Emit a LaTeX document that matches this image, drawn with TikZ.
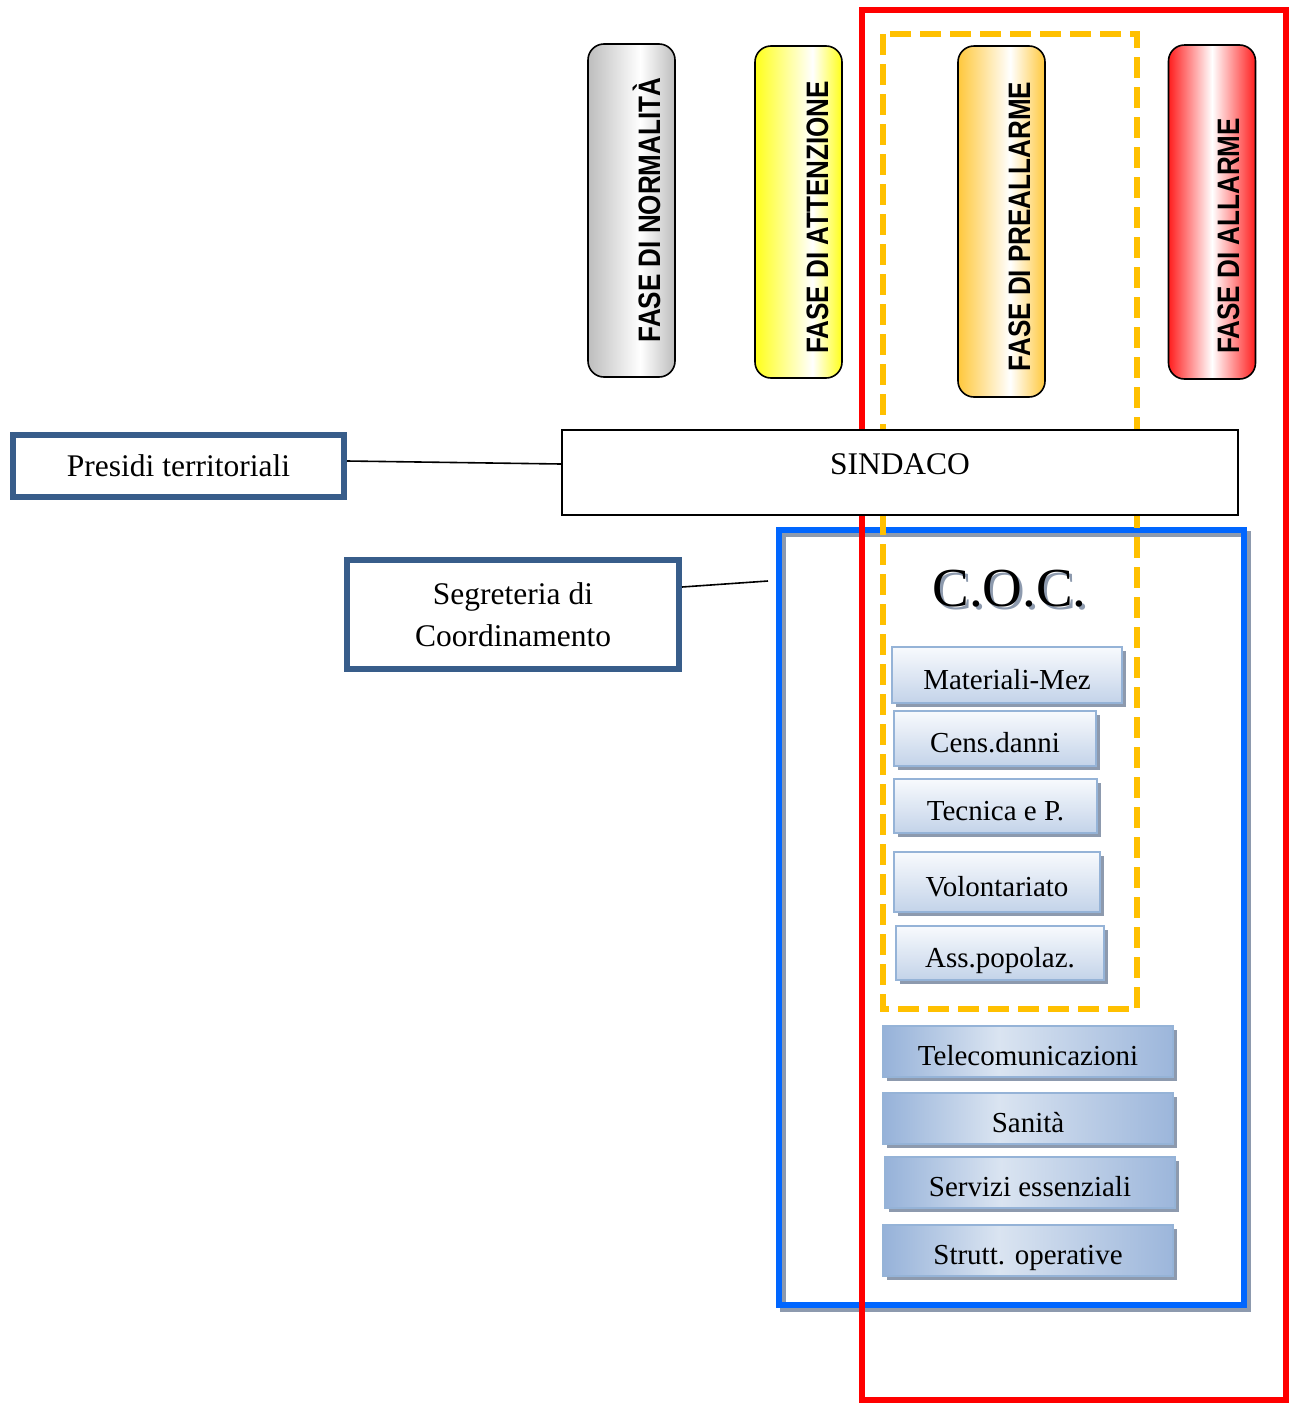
\documentclass[tikz,border=0pt]{standalone}
\usepackage{fontspec}
\setmainfont{Liberation Serif}
\newfontfamily\phasefont{Liberation Sans}
\usetikzlibrary{shadows}
\definecolor{fgray}{HTML}{BDBDBD}
\definecolor{fyellow}{HTML}{FFFF1A}
\definecolor{forange}{HTML}{FFC83C}
\definecolor{fred}{HTML}{FF1E1E}
\definecolor{boxblue}{HTML}{385D8A}
\definecolor{cocblue}{HTML}{0066FF}
\definecolor{dashor}{HTML}{FFC000}
\definecolor{shgray}{HTML}{8D9AAE}
\definecolor{funborder}{HTML}{95B3D7}
\definecolor{funtop}{HTML}{F8FAFD}
\definecolor{funbot}{HTML}{C3D3E9}
\definecolor{fbA}{HTML}{96B2D9}
\definecolor{fbL}{HTML}{DAE4F1}
\definecolor{fbB}{HTML}{9CB6DB}
\pgfdeclarehorizontalshading{shgrayfase}{100bp}{color(0bp)=(fgray); color(25bp)=(fgray); color(55bp)=(white); color(75bp)=(fgray); color(100bp)=(fgray)}
\pgfdeclarehorizontalshading{shyellowfase}{100bp}{color(0bp)=(fyellow); color(25bp)=(fyellow); color(58bp)=(white); color(75bp)=(fyellow); color(100bp)=(fyellow)}
\pgfdeclarehorizontalshading{shorangefase}{100bp}{color(0bp)=(forange); color(25bp)=(forange); color(55bp)=(white); color(75bp)=(forange); color(100bp)=(forange)}
\pgfdeclarehorizontalshading{shredfase}{100bp}{color(0bp)=(fred); color(25bp)=(fred); color(50bp)=(white); color(75bp)=(fred); color(100bp)=(fred)}
\pgfdeclarehorizontalshading{shfunb}{100bp}{color(0bp)=(fbA); color(25bp)=(fbA); color(45bp)=(fbL); color(75bp)=(fbB); color(100bp)=(fbB)}
\begin{document}
\begin{tikzpicture}[x=1pt,y=-1pt,
  pill/.style={draw=black, line width=1.6pt, rounded corners=16pt, inner sep=0pt, minimum width=87pt},
  fasetext/.style={rotate=90, anchor=base, inner sep=0pt, font=\phasefont\bfseries\fontsize{31}{31}\selectfont},
  bluebox/.style={draw=boxblue, line width=6pt, fill=white, inner sep=0pt, font=\fontsize{31.5}{42}\selectfont, align=center},
  plainbox/.style={draw=black, line width=1.6pt, fill=white, inner sep=0pt},
  conn/.style={draw=black, line width=1.6pt},
  funA/.style={draw=funborder, line width=2pt, top color=funtop, bottom color=funbot, inner sep=0pt,
     text height=28pt, text depth=0pt, font=\fontsize{29}{29}\selectfont,
     preaction={fill=shgray, transform canvas={xshift=4pt,yshift=-4pt}}},
  funB/.style={draw=funborder, line width=2pt, shading=shfunb, inner sep=0pt, minimum width=290pt, minimum height=51pt,
     text height=28pt, text depth=0pt, font=\fontsize{29}{29}\selectfont,
     preaction={fill=shgray, transform canvas={xshift=4pt,yshift=-4pt}}},
  cocframe/.style={draw=cocblue, line width=6pt, inner sep=0pt,
     preaction={draw=shgray, line width=6pt, transform canvas={xshift=4pt,yshift=-4pt}}},
]
\useasboundingbox (0,0) rectangle (1290,1403);
\fill[white] (0,0) rectangle (1290,1403);

% phase pills
\node[pill, minimum height=333pt, shading=shgrayfase] (pnorm) at (631.5,210.5) {};
\node[pill, minimum height=332pt, shading=shyellowfase] (patt) at (798.5,212) {};
\node[pill, minimum height=351pt, shading=shorangefase] (ppre) at (1001.5,221.5) {};
\node[pill, minimum height=334pt, shading=shredfase] (pall) at (1212,212) {};
\node[fasetext] (tnorm) at (660,210) {\scalebox{0.84}[1]{FASE DI NORMALITÀ}};
\node[fasetext] (tatt) at (828,217.5) {\scalebox{0.84}[1]{FASE DI ATTENZIONE}};
\node[fasetext] (tpre) at (1030,226.5) {\scalebox{0.84}[1]{FASE DI PREALLARME}};
\node[fasetext] (tall) at (1239,236) {\scalebox{0.84}[1]{FASE DI ALLARME}};

% C.O.C. frame
\node[cocframe, minimum width=465pt, minimum height=775pt] (coc) at (1011.5,917.5) {};

% red and orange frames
\draw[red, line width=6pt] (862,10) rectangle (1285.5,1400);
\draw[dashor, line width=6.5pt, dash pattern=on 21pt off 9pt] (883,34) rectangle (1137,1009);

% sindaco
\node[plainbox, minimum width=676pt, minimum height=85pt, text height=12pt, text depth=9pt,
  font=\fontsize{31.5}{31.5}\selectfont] (sindaco) at (900,472.5) {SINDACO};

% left boxes
\node[bluebox, minimum width=331pt, minimum height=62pt] (presidi) at (178.5,466) {Presidi territoriali};
\node[bluebox, minimum width=332pt, minimum height=109pt] (segr) at (513,614.5) {Segreteria di\\Coordinamento};
\coordinate (segend) at (768,581);

\draw[conn] ([yshift=5pt]presidi.east) -- ([yshift=8.5pt]sindaco.west);
\draw[conn] ([yshift=27.5pt]segr.east) -- (segend);

% C.O.C. title (with its grey shadow)
\node[anchor=base, inner sep=0pt, font=\fontsize{55}{55}\selectfont] (coctitle) at (1009.5,606)
  {\makebox[0pt][l]{\hspace{3pt}\raisebox{-3pt}{\textcolor{shgray}{C.O.C.}}}C.O.C.};

% functions group A
\node[funA, minimum width=230pt, minimum height=56pt] (mat) at (1007,675) {Materiali-Mez};
\node[funA, minimum width=202pt, minimum height=55pt] (cens) at (995,738.5) {Cens.danni};
\node[funA, minimum width=203pt, minimum height=54pt] (tec) at (995.5,806) {Tecnica e P.};
\node[funA, minimum width=206pt, minimum height=60pt] (vol) at (997,882) {Volontariato};
\node[funA, minimum width=208pt, minimum height=54pt] (ass) at (1000,953) {Ass.popolaz.};

% functions group B
\node[funB] (tel) at (1028,1051.5) {Telecomunicazioni};
\node[funB] (san) at (1028,1118.5) {Sanità};
\node[funB] (ser) at (1030,1182.5) {Servizi essenziali};
\node[funB] (str) at (1028,1250.5) {Strutt. operative};
\end{tikzpicture}
\end{document}
